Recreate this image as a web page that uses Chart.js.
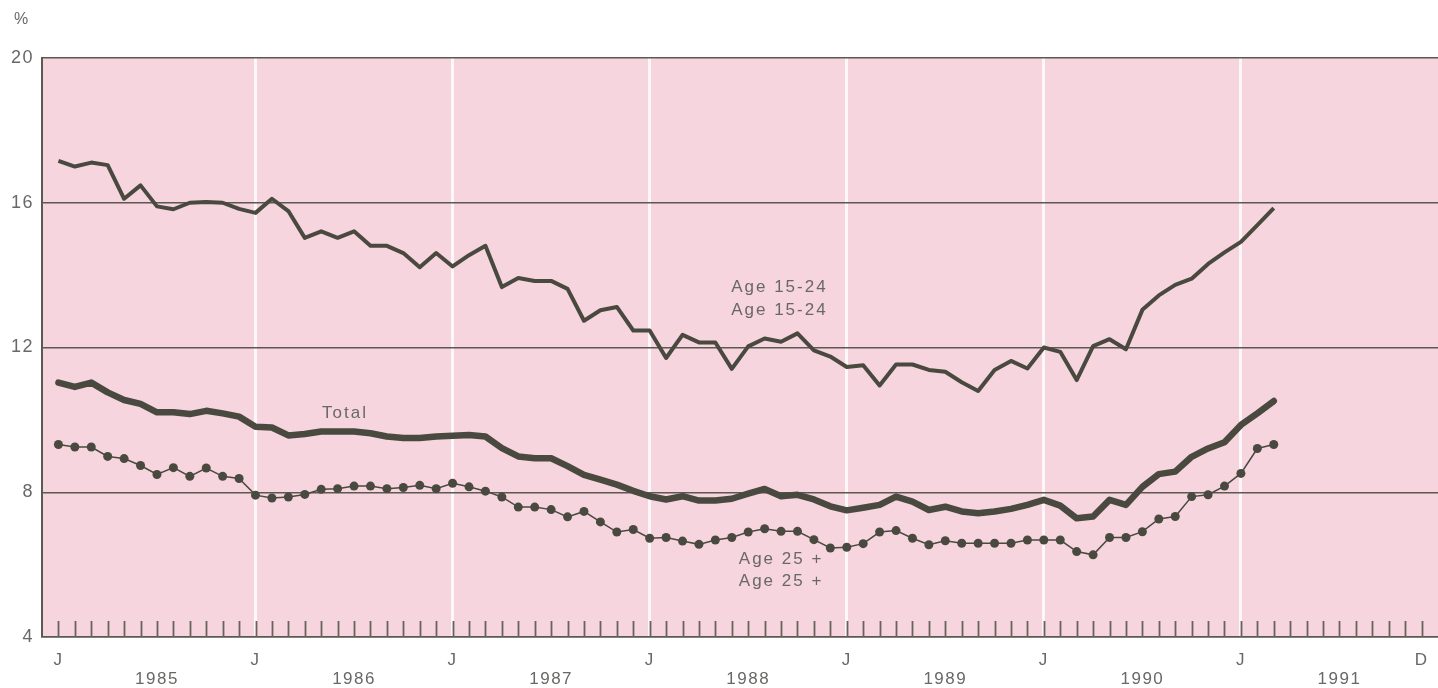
<!DOCTYPE html>
<html lang="en">
<head>
    <meta charset="UTF-8">
    <title>Unemployment rate by age group, 1985-1991</title>
    <script src="https://cdn.jsdelivr.net/npm/chart.js"></script>
    <style>
        html, body { margin: 0; padding: 0; background: #ffffff; overflow: hidden; }
        #wrap { width: 1438px; height: 688px; }
        #rateChart { display: block; }
    </style>
</head>
<body>
<div id="wrap"><canvas id="rateChart" width="1438" height="688"></canvas></div>
<script>
// Axis labels
const axisYears = ['1985', '1986', '1987', '1988', '1989', '1990', '1991'];
const yTicks = [4, 8, 12, 16, 20];

// Monthly observations, Jan 1985 - Mar 1991
const months = [
    '1985-01','1985-02','1985-03','1985-04','1985-05','1985-06','1985-07','1985-08','1985-09','1985-10','1985-11','1985-12',
    '1986-01','1986-02','1986-03','1986-04','1986-05','1986-06','1986-07','1986-08','1986-09','1986-10','1986-11','1986-12',
    '1987-01','1987-02','1987-03','1987-04','1987-05','1987-06','1987-07','1987-08','1987-09','1987-10','1987-11','1987-12',
    '1988-01','1988-02','1988-03','1988-04','1988-05','1988-06','1988-07','1988-08','1988-09','1988-10','1988-11','1988-12',
    '1989-01','1989-02','1989-03','1989-04','1989-05','1989-06','1989-07','1989-08','1989-09','1989-10','1989-11','1989-12',
    '1990-01','1990-02','1990-03','1990-04','1990-05','1990-06','1990-07','1990-08','1990-09','1990-10','1990-11','1990-12',
    '1991-01','1991-02','1991-03'
];

const age1524 = [
    17.16, 17.00, 17.11, 17.04, 16.11, 16.48, 15.90, 15.82, 16.00, 16.02, 16.00, 15.83,
    15.72, 16.11, 15.77, 15.03, 15.21, 15.03, 15.21, 14.81, 14.81, 14.61, 14.22, 14.61,
    14.24, 14.55, 14.81, 13.67, 13.92, 13.84, 13.84, 13.62, 12.74, 13.03, 13.12, 12.47,
    12.47, 11.71, 12.35, 12.14, 12.14, 11.41, 12.03, 12.25, 12.16, 12.39, 11.92, 11.75,
    11.46, 11.51, 10.95, 11.53, 11.53, 11.38, 11.33, 11.04, 10.80, 11.38, 11.63, 11.42,
    12.00, 11.88, 11.10, 12.04, 12.23, 11.95, 13.04, 13.44, 13.73, 13.90, 14.31, 14.63,
    14.92, 15.38, 15.85
];

const total = [
    11.03, 10.91, 11.03, 10.76, 10.55, 10.44, 10.21, 10.21, 10.16, 10.25, 10.18, 10.09,
    9.81, 9.79, 9.57, 9.61, 9.68, 9.68, 9.68, 9.63, 9.54, 9.50, 9.50, 9.54,
    9.56, 9.58, 9.54, 9.22, 8.99, 8.94, 8.94, 8.72, 8.48, 8.35, 8.21, 8.04,
    7.89, 7.80, 7.89, 7.77, 7.77, 7.82, 7.96, 8.09, 7.89, 7.93, 7.80, 7.61,
    7.50, 7.57, 7.65, 7.88, 7.74, 7.51, 7.60, 7.47, 7.42, 7.47, 7.54, 7.65,
    7.79, 7.63, 7.28, 7.33, 7.79, 7.65, 8.15, 8.50, 8.57, 8.98, 9.21, 9.38,
    9.86, 10.18, 10.52
];

const age25plus = [
    9.32, 9.25, 9.25, 8.99, 8.93, 8.74, 8.49, 8.68, 8.44, 8.67, 8.44, 8.38,
    7.92, 7.84, 7.87, 7.94, 8.08, 8.10, 8.17, 8.17, 8.10, 8.13, 8.19, 8.10,
    8.25, 8.15, 8.03, 7.87, 7.59, 7.59, 7.52, 7.32, 7.47, 7.18, 6.90, 6.97,
    6.73, 6.75, 6.65, 6.56, 6.68, 6.75, 6.90, 6.99, 6.92, 6.92, 6.69, 6.46,
    6.48, 6.58, 6.90, 6.94, 6.73, 6.55, 6.66, 6.59, 6.59, 6.59, 6.59, 6.68,
    6.68, 6.68, 6.36, 6.27, 6.75, 6.75, 6.91, 7.26, 7.33, 7.88, 7.93, 8.17,
    8.52, 9.21, 9.32
];

// Text placed on the plot (in data coordinates)
const seriesLabels = [
    { text: 'Age 15-24', month: 43.9, value: 13.67 },
    { text: 'Age 15-24', month: 43.9, value: 13.04 },
    { text: 'Total', month: 17.45, value: 10.19 },
    { text: 'Age 25 +', month: 44.0, value: 6.16 },
    { text: 'Age 25 +', month: 44.0, value: 5.55 }
];

const ink = '#4a4940';
const rule = '#5b5951';
const textGrey = '#6a6866';
const pink = '#f6d5de';
const fontFamily = '"Liberation Sans", Arial, sans-serif';

// month string -> position on the linear x axis (0 = Jan 1985)
function monthPos(m) {
    const [y, mo] = m.split('-').map(Number);
    return (y - Number(axisYears[0])) * 12 + (mo - 1);
}

const toPoints = vals => vals.map((v, i) => ({ x: monthPos(months[i]), y: v }));

// every month on the axis, for the tick marks
const axisMonths = [];
axisYears.forEach((yr, yi) => {
    for (let m = 0; m < 12; m++) axisMonths.push(yi * 12 + m);
});

const paperPlugin = {
    id: 'paper',
    beforeDraw(chart) {
        const { ctx, chartArea: a } = chart;
        ctx.save();
        ctx.fillStyle = pink;
        ctx.fillRect(a.left, a.top, a.right - a.left, a.bottom - a.top);
        ctx.restore();
        // spaced lettering, like the printed original (kept for the axis labels too)
        ctx.letterSpacing = '1.5px';
    },
    beforeDatasetsDraw(chart) {
        const { ctx, chartArea: a, scales } = chart;
        ctx.save();
        ctx.strokeStyle = '#66635b';
        ctx.lineWidth = 1.8;
        axisMonths.forEach(m => {
            const x = Math.round(scales.x.getPixelForValue(m)) + 0.5;
            ctx.beginPath();
            ctx.moveTo(x, a.bottom);
            ctx.lineTo(x, a.bottom - 16);
            ctx.stroke();
        });
        ctx.restore();
    },
    afterDraw(chart) {
        const { ctx, scales } = chart;
        ctx.save();
        ctx.fillStyle = textGrey;
        ctx.textAlign = 'center';
        ctx.textBaseline = 'middle';
        ctx.font = '17px ' + fontFamily;
        ctx.letterSpacing = '2px';
        seriesLabels.forEach(l => {
            ctx.fillText(l.text, scales.x.getPixelForValue(l.month), scales.y.getPixelForValue(l.value));
        });
        ctx.letterSpacing = '0px';
        ctx.font = '16px ' + fontFamily;
        ctx.fillText('%', 21, 20);
        ctx.restore();
        ctx.letterSpacing = '0px';
    }
};

new Chart(document.getElementById('rateChart'), {
    type: 'line',
    data: {
        datasets: [
            {
                label: 'Age 15-24',
                data: toPoints(age1524),
                borderColor: ink,
                borderWidth: 4,
                pointRadius: 0,
                borderJoinStyle: 'round'
            },
            {
                label: 'Total',
                data: toPoints(total),
                borderColor: ink,
                borderWidth: 6.5,
                pointRadius: 0,
                borderJoinStyle: 'round',
                borderCapStyle: 'round'
            },
            {
                label: 'Age 25 +',
                data: toPoints(age25plus),
                borderColor: ink,
                borderWidth: 1.5,
                pointRadius: 4.5,
                pointBackgroundColor: ink,
                pointBorderWidth: 0
            }
        ]
    },
    options: {
        responsive: false,
        animation: false,
        layout: { autoPadding: false, padding: { top: 58, right: 0, bottom: 0, left: 0 } },
        plugins: {
            legend: { display: false },
            tooltip: { enabled: false }
        },
        scales: {
            x: {
                type: 'linear',
                min: -1,
                max: 84,
                afterBuildTicks: s => { s.ticks = axisMonths.map(v => ({ value: v })); },
                afterFit: s => { s.height = 51; s.paddingLeft = 0; s.paddingRight = 0; },
                grid: {
                    z: -1,
                    drawTicks: false,
                    lineWidth: 3,
                    color: c => (c.tick && c.tick.value > 0 && c.tick.value % 12 === 0)
                        ? 'rgba(255,255,255,0.8)' : 'rgba(0,0,0,0)'
                },
                border: { display: true, color: rule, width: 1.5 },
                ticks: {
                    autoSkip: false,
                    maxRotation: 0,
                    padding: 14,
                    color: textGrey,
                    font: { family: fontFamily, size: 17, lineHeight: 1.1 },
                    callback: v => {
                        if (v % 12 === 0) return 'J';
                        if (v === 83) return 'D';
                        if (v % 12 === 6) return ['', axisYears[Math.floor(v / 12)]];
                        return '';
                    }
                }
            },
            y: {
                min: 4,
                max: 20,
                afterBuildTicks: s => { s.ticks = yTicks.map(v => ({ value: v })); },
                afterFit: s => { s.width = 42; },
                grid: { drawTicks: false, color: rule, lineWidth: 1.4 },
                border: { display: true, color: rule, width: 2 },
                ticks: {
                    padding: 8,
                    color: textGrey,
                    font: { family: fontFamily, size: 18 }
                }
            }
        }
    },
    plugins: [paperPlugin]
});
</script>
</body>
</html>
